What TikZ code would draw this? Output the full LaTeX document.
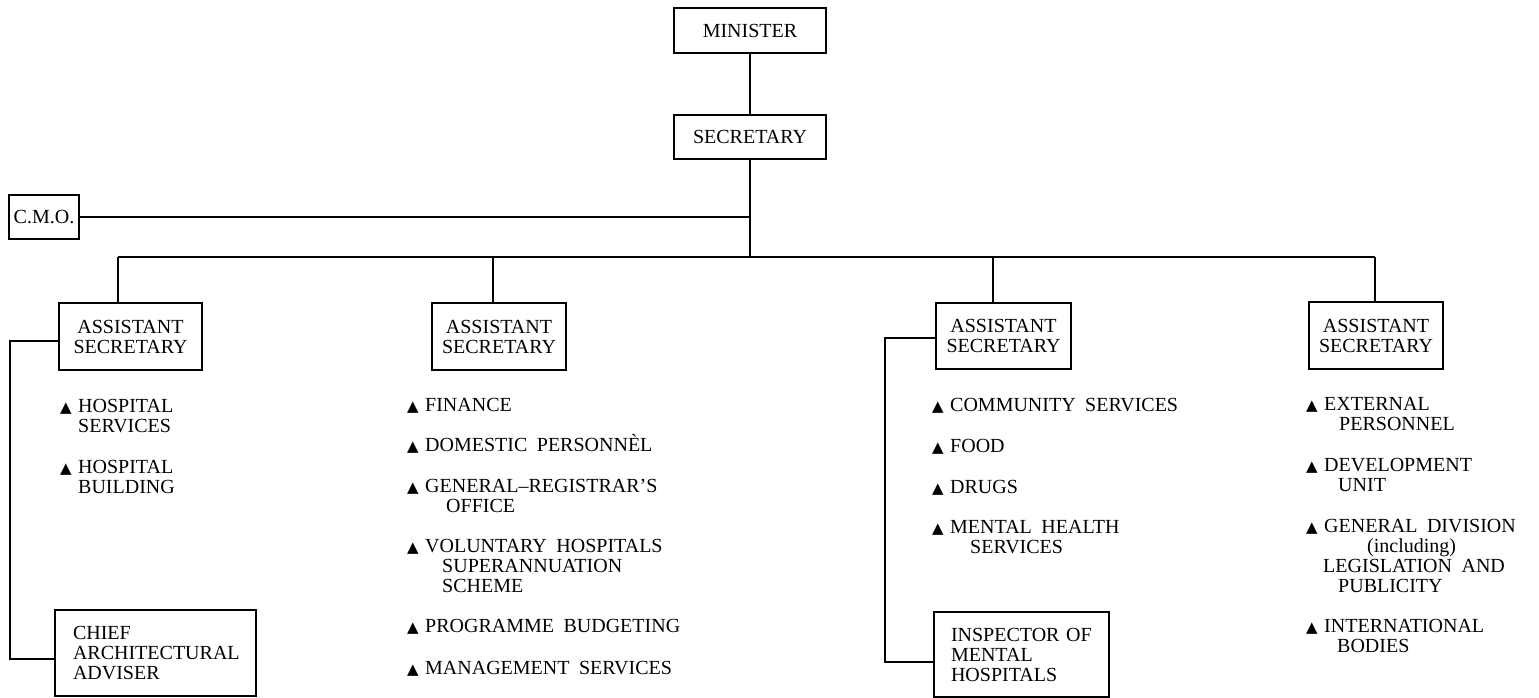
\documentclass[tikz,border=0pt]{standalone}
\usepackage{fontspec}
\setmainfont{Liberation Serif}[WordSpace=1.9]
\newfontfamily\symfont{DejaVu Sans}
\newcommand\txtfont{\fontsize{20}{20}\selectfont}
\newcommand\tri{\makebox[18pt][l]{{\symfont\fontsize{15}{15}\selectfont ▲}}}
\tikzset{
  post/.style={draw, line width=1.5pt, inner sep=0pt, align=center, font=\txtfont},
  leftpost/.style={post, align=left, inner ysep=0pt},
  % the base of a multi-line duty is the baseline of its last line
  duty/.style={anchor=base west, align=left, inner sep=0pt, font=\txtfont},
  link/.style={line width=1.5pt}
}
\begin{document}
\begin{tikzpicture}[x=1pt,y=-1pt]
\useasboundingbox (0,0) rectangle (1539,698);

% posts
\node[post, minimum width=152pt, minimum height=45pt] (minister) at (750,30.5) {MINISTER};
\node[post, minimum width=152pt, minimum height=44pt] (secretary) at (750,137) {SECRETARY};
\node[post, minimum width=70pt, minimum height=44pt] (cmo) at (44,217) {C.M.O.};
\node[post, minimum width=143pt, minimum height=67pt] (as1) at (130.5,336.5) {ASSISTANT\\SECRETARY};
\node[post, minimum width=134pt, minimum height=67pt] (as2) at (499,336.5) {ASSISTANT\\SECRETARY};
\node[post, minimum width=135pt, minimum height=66pt] (as3) at (1003.5,336) {ASSISTANT\\SECRETARY};
\node[post, minimum width=134pt, minimum height=67pt] (as4) at (1376,335.5) {ASSISTANT\\SECRETARY};
\node[leftpost, text width=165pt, inner xsep=18pt, minimum height=86pt] (chief) at (155.5,653)
  {CHIEF\\ARCHITECTURAL\\ADVISER};
\node[leftpost, text width=141pt, inner xsep=17pt, minimum height=85pt] (inspector) at (1021.5,654.5)
  {INSPECTOR OF\\MENTAL\\HOSPITALS};

% drop points on the bus and corners of the side links
\coordinate (d1) at (118,257);
\coordinate (d2) at (493,257);
\coordinate (d3) at (993,257);
\coordinate (d4) at (1375,257);
\coordinate (l1a) at (10,341);
\coordinate (l1b) at (10,659);
\coordinate (l3a) at (885,338);
\coordinate (l3b) at (885,662);

% connectors
\draw[link] (minister) -- (secretary);
\draw[link] (secretary.south) -- (secretary.south |- d1);
\draw[link] (cmo.east) -- (cmo.east -| secretary.south);
\draw[link] (d1) -- (d4);
\draw[link] (d1) -- (d1 |- as1.north);
\draw[link] (d2) -- (d2 |- as2.north);
\draw[link] (d3) -- (d3 |- as3.north);
\draw[link] (d4) -- (d4 |- as4.north);
\draw[link] (as1.west |- l1a) -- (l1a) -- (l1b) -- (chief.west |- l1b);
\draw[link] (as3.west |- l3a) -- (l3a) -- (l3b) -- (inspector.west |- l3b);

% duties, first branch
\node[duty] (h1) at (60,432) {\tri HOSPITAL\\\hspace*{18pt}SERVICES};
\node[duty] (h2) at (60,493) {\tri HOSPITAL\\\hspace*{18pt}BUILDING};

% duties, second branch
\node[duty] (f1) at (407,411) {\tri FINANCE};
\node[duty] (f2) at (407,451) {\tri DOMESTIC PERSONNÈL};
\node[duty] (f3) at (407,512) {\tri GENERAL--REGISTRAR’S\\\hspace*{39pt}OFFICE};
\node[duty] (f4) at (407,592) {\tri VOLUNTARY HOSPITALS\\\hspace*{35pt}SUPERANNUATION\\\hspace*{35pt}SCHEME};
\node[duty] (f5) at (407,632) {\tri PROGRAMME BUDGETING};
\node[duty] (f6) at (407,674) {\tri MANAGEMENT SERVICES};

% duties, third branch
\node[duty] (c1) at (932,411) {\tri COMMUNITY SERVICES};
\node[duty] (c2) at (932,452) {\tri FOOD};
\node[duty] (c3) at (932,493) {\tri DRUGS};
\node[duty] (c4) at (932,553) {\tri MENTAL HEALTH\\\hspace*{38pt}SERVICES};

% duties, fourth branch
\node[duty] (e1) at (1306,430) {\tri EXTERNAL\\\hspace*{33pt}PERSONNEL};
\node[duty] (e2) at (1306,491) {\tri DEVELOPMENT\\\hspace*{32pt}UNIT};
\node[duty] (e3) at (1306,592) {\tri GENERAL DIVISION\\\hspace*{61pt}(including)\\\hspace*{17pt}LEGISLATION AND\\\hspace*{32pt}PUBLICITY};
\node[duty] (e4) at (1306,652) {\tri INTERNATIONAL\\\hspace*{31pt}BODIES};
\end{tikzpicture}
\end{document}
